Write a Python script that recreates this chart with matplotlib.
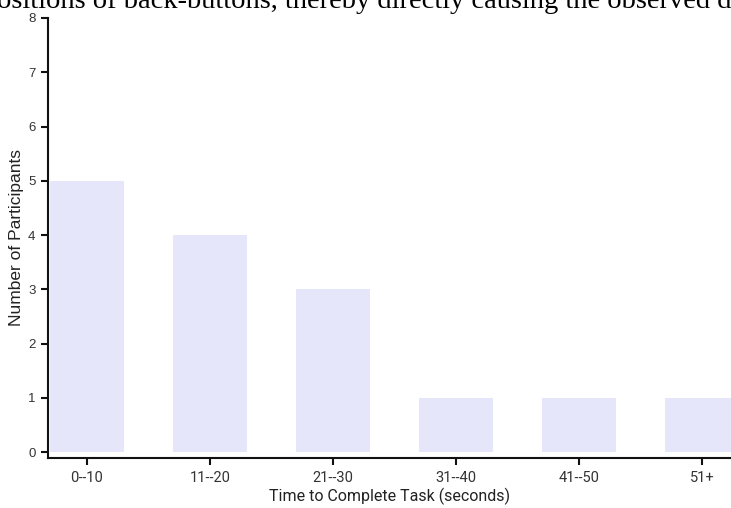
import matplotlib
matplotlib.use("Agg")
import matplotlib.pyplot as plt

categories = ["0--10", "11--20", "21--30", "31--40", "41--50", "51+"]
counts = [5, 4, 3, 1, 1, 1]
yticks = [0, 1, 2, 3, 4, 5, 6, 7, 8]

W, H = 731, 508
fig = plt.figure(figsize=(W/100, H/100), dpi=100)
ax_left, ax_right, ax_top, ax_bottom = 48, 731, 18, 458
ax = fig.add_axes([ax_left/W, 1 - ax_bottom/H, (ax_right-ax_left)/W, (ax_bottom-ax_top)/H])

x = list(range(len(categories)))
ax.bar(x, counts, width=0.6, color="#E6E6FA", zorder=1)
ax.set_xlim(-0.317, 5.236)
ax.set_ylim(-0.11, 8)
ax.set_xticks(x)
ax.set_xticklabels(categories, fontfamily="Roboto", fontsize=10.5, color="#333333")
ax.set_yticks(yticks)
ax.set_yticklabels([str(v) for v in yticks], fontfamily="Liberation Sans", fontsize=9.5, color="#333333")
for s in ["top", "right"]:
    ax.spines[s].set_visible(False)
for s in ["left", "bottom"]:
    ax.spines[s].set_linewidth(1.5)
    ax.spines[s].set_color("#111111")
ax.tick_params(axis="both", length=5, width=1.5, color="#111111", pad=4)
ax.set_xlabel("Time to Complete Task (seconds)", fontfamily="Roboto", fontsize=11.5, color="#222222", labelpad=2)
ax.set_ylabel("Number of Participants", fontfamily="Liberation Sans", fontsize=12.5, color="#222222", labelpad=3)

fig.text(-0.004, 1 - 8/H, "ositions of back-buttons, thereby directly causing the observed d",
         fontfamily="Liberation Serif", fontsize=20.5, va="baseline", ha="left", color="black")

fig.savefig("out.png", dpi=100)
